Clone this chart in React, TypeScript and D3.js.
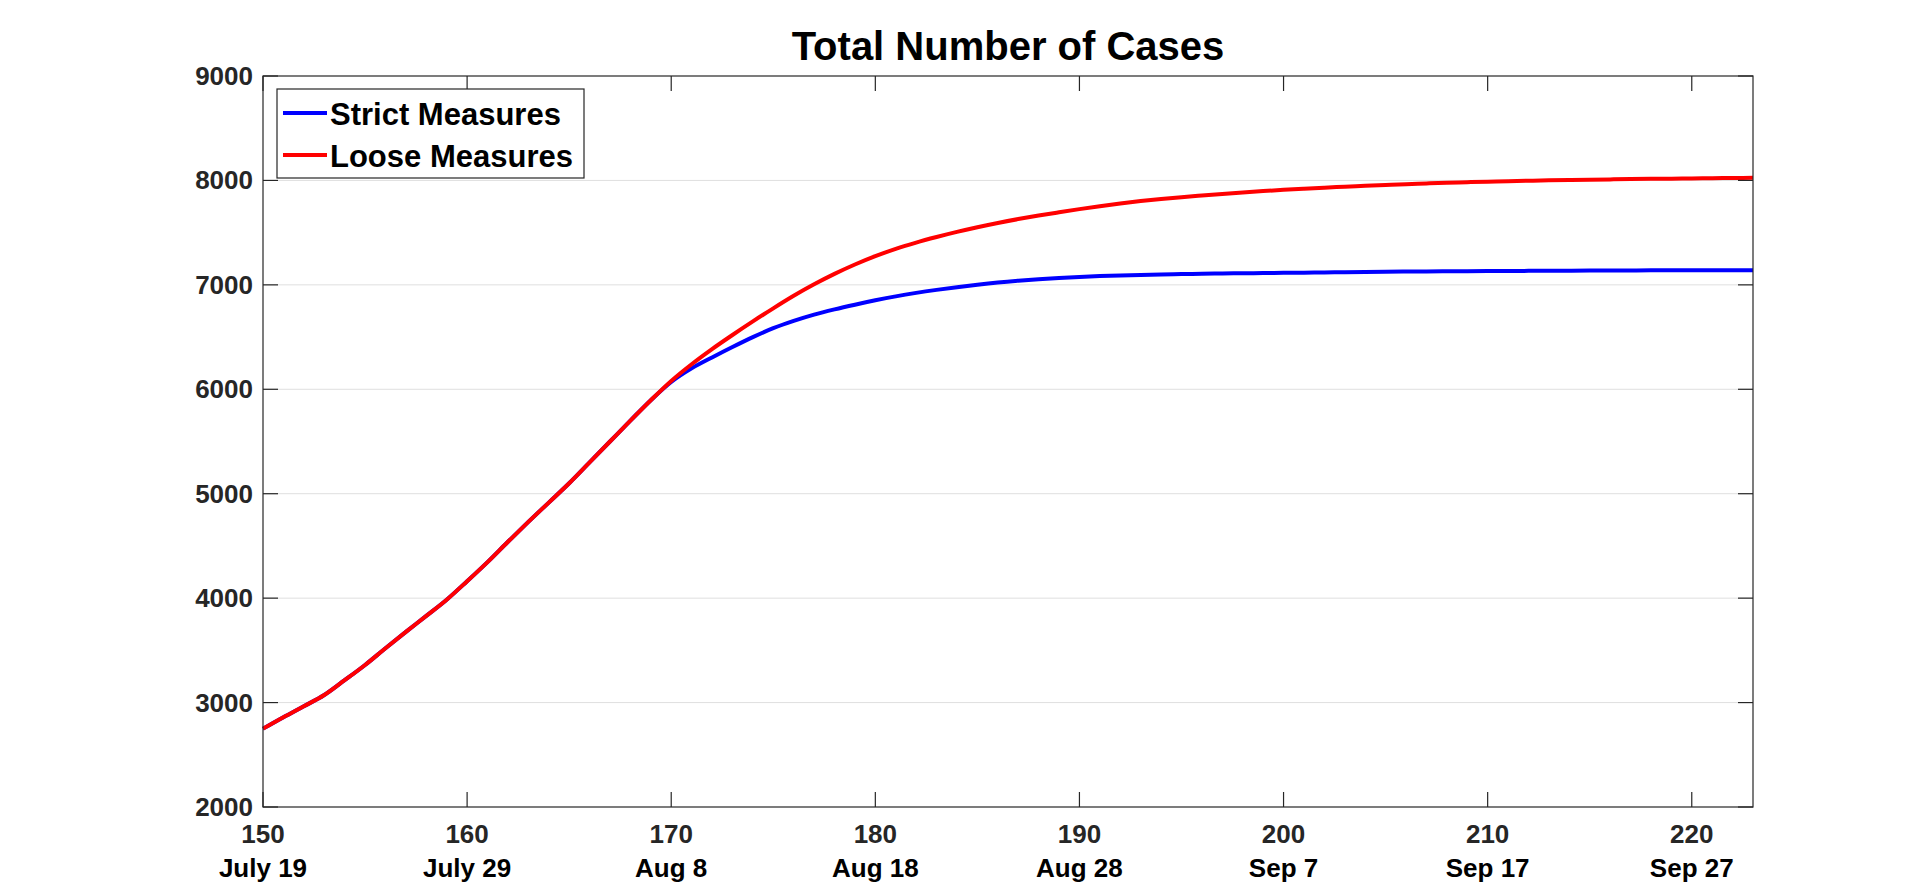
import { useEffect, useRef } from 'react';
import * as d3 from 'd3';

const days = d3.range(150, 224);

const strictCases = [
  2750, 2860, 2965, 3072, 3214, 3360, 3520, 3677, 3830, 3985,
  4162, 4345, 4540, 4730, 4915, 5100, 5300, 5500, 5700, 5895,
  6070, 6200, 6305, 6405, 6500, 6585, 6655, 6715, 6765, 6810,
  6852, 6890, 6923, 6952, 6978, 7002, 7023, 7040, 7054, 7066,
  7076, 7084, 7090, 7095, 7099, 7103, 7106, 7109, 7111, 7113,
  7115, 7117, 7119, 7121, 7123, 7125, 7127, 7128, 7130, 7131,
  7132, 7133, 7134, 7135, 7136, 7137, 7138, 7138, 7139, 7139,
  7140, 7140, 7140, 7140,
];

const looseCases = [
  2750, 2860, 2965, 3072, 3214, 3360, 3520, 3677, 3830, 3985,
  4162, 4345, 4540, 4730, 4915, 5100, 5300, 5500, 5700, 5895,
  6080, 6240, 6385, 6520, 6650, 6775, 6895, 7005, 7105, 7195,
  7275, 7345, 7405, 7458, 7507, 7552, 7593, 7630, 7664, 7695,
  7725, 7753, 7779, 7802, 7822, 7840, 7856, 7871, 7885, 7898,
  7910, 7921, 7931, 7940, 7949, 7957, 7964, 7971, 7977, 7983,
  7988, 7993, 7997, 8001, 8004, 8007, 8010, 8013, 8015, 8017,
  8019, 8021, 8023, 8025,
];

const xTicks = [150, 160, 170, 180, 190, 200, 210, 220];
const xDateLabels = ['July 19', 'July 29', 'Aug 8', 'Aug 18', 'Aug 28', 'Sep 7', 'Sep 17', 'Sep 27'];
const yTicks = [2000, 3000, 4000, 5000, 6000, 7000, 8000, 9000];

const SERIES = [
  { label: 'Strict Measures', color: '#0000FF', values: strictCases },
  { label: 'Loose Measures', color: '#FF0000', values: looseCases },
];

const W = 1920;
const H = 895;
const FONT = '"Liberation Sans", Arial, Helvetica, sans-serif';
const AXIS = '#262626';

export default function App() {
  const svgRef = useRef<SVGSVGElement>(null);

  useEffect(() => {
    document.body.style.margin = '0';
    const svg = d3.select(svgRef.current!);
    svg.selectAll('*').remove();

    const margin = { top: 76, right: 167, bottom: 88, left: 263 };
    const x = d3.scaleLinear().domain([150, 223]).range([margin.left, W - margin.right]);
    const y = d3.scaleLinear().domain([2000, 9000]).range([H - margin.bottom, margin.top]);
    const [x0, x1] = x.range();
    const [y0, y1] = y.range();

    // horizontal grid
    svg.append('g').selectAll('line').data(yTicks.slice(1, -1)).join('line')
      .attr('x1', x0).attr('x2', x1)
      .attr('y1', (d) => y(d)).attr('y2', (d) => y(d))
      .attr('stroke', '#dfdfdf').attr('stroke-width', 1);

    // curves
    const line = d3.line<number>()
      .x((_, i) => x(days[i]))
      .y((d) => y(d))
      .curve(d3.curveMonotoneX);
    SERIES.forEach((s) => {
      svg.append('path').datum(s.values)
        .attr('d', line)
        .attr('fill', 'none')
        .attr('stroke', s.color)
        .attr('stroke-width', 4)
        .attr('stroke-linejoin', 'round');
    });

    // box + inward ticks
    const frame = svg.append('g').attr('stroke', AXIS).attr('stroke-width', 1.2);
    frame.append('rect')
      .attr('x', x0).attr('y', y1).attr('width', x1 - x0).attr('height', y0 - y1)
      .attr('fill', 'none');
    const tl = 15;
    xTicks.forEach((t) => {
      frame.append('line').attr('x1', x(t)).attr('x2', x(t)).attr('y1', y0).attr('y2', y0 - tl);
      frame.append('line').attr('x1', x(t)).attr('x2', x(t)).attr('y1', y1).attr('y2', y1 + tl);
    });
    yTicks.forEach((t) => {
      frame.append('line').attr('x1', x0).attr('x2', x0 + tl).attr('y1', y(t)).attr('y2', y(t));
      frame.append('line').attr('x1', x1).attr('x2', x1 - tl).attr('y1', y(t)).attr('y2', y(t));
    });

    // y tick labels
    svg.append('g').selectAll('text').data(yTicks).join('text')
      .attr('x', x0 - 10).attr('y', (d) => y(d) + 9)
      .attr('text-anchor', 'end')
      .attr('font-family', FONT).attr('font-weight', 'bold').attr('font-size', 26)
      .attr('fill', AXIS)
      .text((d) => d);

    // x tick labels (day number + date)
    svg.append('g').selectAll('text').data(xTicks).join('text')
      .attr('x', (d) => x(d)).attr('y', y0 + 36)
      .attr('text-anchor', 'middle')
      .attr('font-family', FONT).attr('font-weight', 'bold').attr('font-size', 26)
      .attr('fill', AXIS)
      .text((d) => d);
    svg.append('g').selectAll('text').data(xDateLabels).join('text')
      .attr('x', (_, i) => x(xTicks[i])).attr('y', y0 + 70)
      .attr('text-anchor', 'middle')
      .attr('font-family', FONT).attr('font-weight', 'bold').attr('font-size', 26)
      .attr('fill', '#000')
      .text((d) => d);

    // title
    svg.append('text')
      .attr('x', (x0 + x1) / 2).attr('y', 60)
      .attr('text-anchor', 'middle')
      .attr('font-family', FONT).attr('font-weight', 'bold').attr('font-size', 40)
      .attr('fill', '#000')
      .text('Total Number of Cases');

    // legend
    const lg = svg.append('g').attr('transform', `translate(${x0 + 14},${y1 + 13})`);
    lg.append('rect').attr('width', 307).attr('height', 89)
      .attr('fill', '#fff').attr('stroke', AXIS).attr('stroke-width', 1.2);
    SERIES.forEach((s, i) => {
      const cy = 24 + i * 42;
      lg.append('line').attr('x1', 6).attr('x2', 50).attr('y1', cy).attr('y2', cy)
        .attr('stroke', s.color).attr('stroke-width', 4);
      lg.append('text').attr('x', 53).attr('y', cy + 12)
        .attr('font-family', FONT).attr('font-weight', 'bold').attr('font-size', 31)
        .attr('fill', '#000')
        .text(s.label);
    });
  }, []);

  return <svg ref={svgRef} width={W} height={H} style={{ display: 'block', background: '#fff' }} />;
}
